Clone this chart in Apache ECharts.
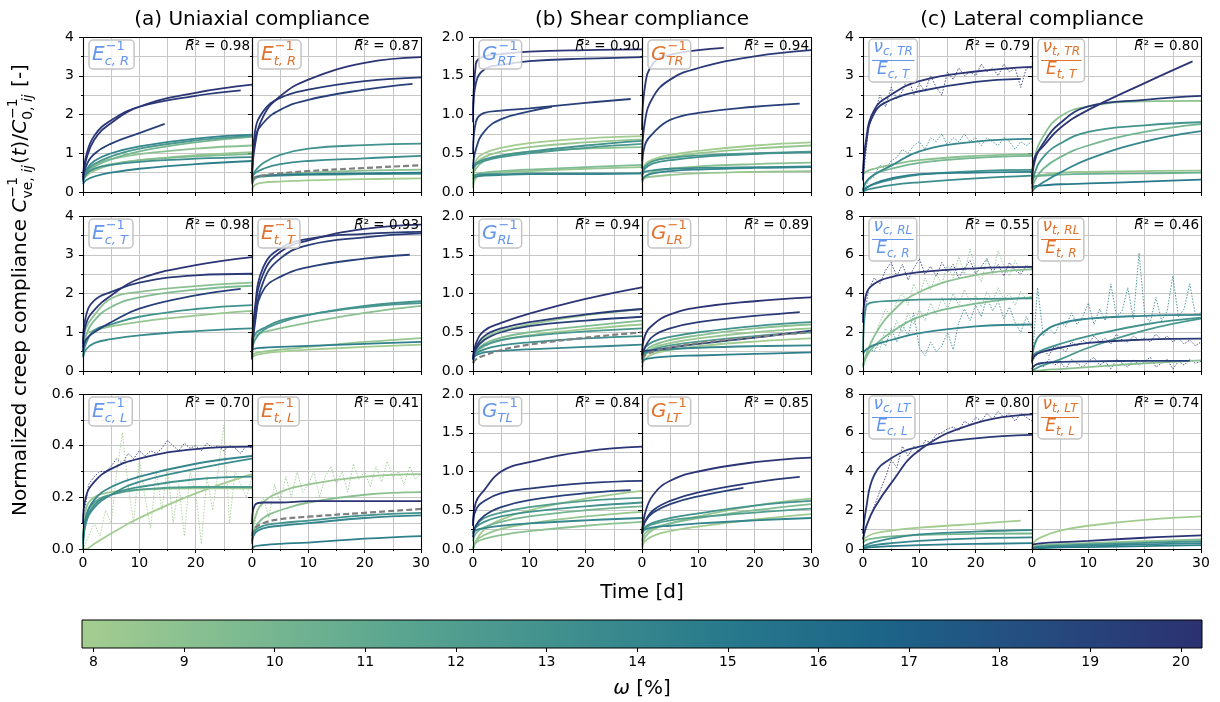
<!DOCTYPE html>
<html>
<head>
<meta charset="utf-8">
<script src="https://cdn.jsdelivr.net/npm/echarts@6/dist/echarts.min.js"></script>
<style>
html, body { margin: 0; padding: 0; background: #fff; }
#main { width: 1220px; height: 702px; }
</style>
</head>
<body>
<div id="main"></div>
<script>
var tDays = [0, 0.5, 2, 5, 10, 20, 30];
// every curve: [moisture %, last day, values at tDays before last day..., value at last day]
var ecR = [
    [20, 30, 0.35, 0.8, 1.35, 1.78, 2.2, 2.56, 2.77],
    [19.6, 28, 0.4, 0.9, 1.45, 1.85, 2.2, 2.48, 2.62],
    [19.2, 14.5, 0.3, 0.65, 0.98, 1.25, 1.52, 1.76],
    [14, 30, 0.35, 0.55, 0.8, 1.0, 1.18, 1.38, 1.48],
    [12.5, 30, 0.3, 0.5, 0.72, 0.92, 1.12, 1.33, 1.45],
    [10, 30, 0.3, 0.45, 0.65, 0.85, 1.05, 1.28, 1.42],
    [9, 30, 0.35, 0.5, 0.7, 0.85, 0.98, 1.12, 1.2],
    [8.5, 30, 0.3, 0.4, 0.55, 0.7, 0.82, 0.95, 1.03],
    [9.5, 30, 0.3, 0.45, 0.6, 0.72, 0.82, 0.92, 0.98],
    [13.5, 30, 0.25, 0.45, 0.6, 0.7, 0.78, 0.86, 0.9],
    [14.5, 30, 0.2, 0.3, 0.4, 0.5, 0.6, 0.72, 0.8]
];
var etR = [
    [20, 30, 0.3, 1.18, 1.95, 2.47, 2.9, 3.33, 3.48],
    [19.6, 30, 0.3, 1.52, 2.08, 2.43, 2.64, 2.86, 2.96],
    [19.2, 28.5, 0.3, 1.35, 1.78, 2.12, 2.38, 2.64, 2.79],
    [13, 30, 0.4, 0.53, 0.75, 0.96, 1.12, 1.21, 1.25],
    [13.5, 30, 0.35, 0.48, 0.6, 0.72, 0.8, 0.87, 0.93],
    [9, 30, 0.2, 0.35, 0.42, 0.45, 0.5, 0.55, 0.58],
    [12, 30, 0.2, 0.35, 0.4, 0.42, 0.44, 0.46, 0.47],
    [15, 30, 0.25, 0.38, 0.42, 0.44, 0.46, 0.48, 0.5],
    [8, 30, 0.05, 0.18, 0.24, 0.27, 0.3, 0.33, 0.35]
];
var gRT = [
    [20, 30, 0.9, 1.65, 1.75, 1.78, 1.81, 1.83, 1.84],
    [19.6, 30, 1.0, 1.4, 1.58, 1.64, 1.69, 1.72, 1.74],
    [19.3, 28, 0.5, 0.9, 1.02, 1.05, 1.08, 1.15, 1.2],
    [19, 14, 0.3, 0.55, 0.78, 0.94, 1.04, 1.1],
    [8, 30, 0.2, 0.4, 0.5, 0.57, 0.63, 0.69, 0.72],
    [8.5, 30, 0.15, 0.35, 0.45, 0.52, 0.58, 0.64, 0.68],
    [9, 30, 0.2, 0.3, 0.4, 0.47, 0.52, 0.56, 0.58],
    [13, 30, 0.33, 0.37, 0.42, 0.47, 0.52, 0.6, 0.66],
    [12.5, 30, 0.3, 0.35, 0.4, 0.45, 0.5, 0.57, 0.62],
    [9.5, 30, 0.1, 0.22, 0.25, 0.27, 0.29, 0.32, 0.35],
    [13.2, 30, 0.2, 0.22, 0.23, 0.23, 0.24, 0.24, 0.24],
    [14, 30, 0.17, 0.2, 0.21, 0.22, 0.23, 0.23, 0.24],
    [8.5, 30, 0.05, 0.18, 0.22, 0.25, 0.27, 0.3, 0.32]
];
var gTR = [
    [20, 14.5, 0.8, 1.35, 1.66, 1.77, 1.83, 1.86],
    [19.6, 30, 0.4, 0.9, 1.23, 1.45, 1.6, 1.75, 1.83],
    [19.2, 28, 0.3, 0.6, 0.76, 0.93, 1.02, 1.1, 1.14],
    [8, 30, 0.15, 0.35, 0.42, 0.48, 0.53, 0.6, 0.64],
    [8.5, 30, 0.2, 0.33, 0.4, 0.45, 0.5, 0.56, 0.6],
    [12.5, 30, 0.25, 0.33, 0.4, 0.44, 0.47, 0.5, 0.52],
    [13, 30, 0.2, 0.3, 0.37, 0.41, 0.45, 0.49, 0.51],
    [9, 30, 0.15, 0.2, 0.26, 0.3, 0.33, 0.36, 0.38],
    [13.5, 30, 0.22, 0.26, 0.28, 0.3, 0.31, 0.32, 0.33],
    [14, 30, 0.15, 0.2, 0.24, 0.27, 0.29, 0.31, 0.32],
    [8.5, 30, 0.12, 0.18, 0.2, 0.22, 0.24, 0.26, 0.27]
];
var latCTR = [
    [20, 30, 0.3, 1.3, 2.12, 2.51, 2.86, 3.11, 3.23],
    [19.6, 28, 0.3, 1.2, 2.04, 2.38, 2.6, 2.84, 2.92],
    [14, 30, 0.05, 0.25, 0.45, 0.68, 1.05, 1.3, 1.37],
    [9, 30, 0.45, 0.52, 0.6, 0.7, 0.82, 0.93, 0.98],
    [10, 30, 0.05, 0.25, 0.45, 0.6, 0.75, 0.88, 0.93],
    [13, 30, 0.02, 0.1, 0.2, 0.32, 0.45, 0.54, 0.57],
    [14.5, 30, 0.02, 0.1, 0.22, 0.35, 0.46, 0.5, 0.52],
    [13.5, 30, 0.0, 0.05, 0.1, 0.18, 0.25, 0.35, 0.42]
];
var latTTR = [
    [20, 28.5, 0.3, 0.9, 1.18, 1.65, 2.12, 2.81, 3.37],
    [19.6, 30, 0.2, 0.8, 1.26, 1.78, 2.21, 2.38, 2.48],
    [9, 30, 0.3, 0.9, 1.44, 1.95, 2.21, 2.34, 2.35],
    [13, 30, 0.1, 0.5, 0.9, 1.25, 1.55, 1.72, 1.8],
    [10, 30, 0.05, 0.3, 0.6, 0.9, 1.2, 1.55, 1.75],
    [14, 30, 0.0, 0.1, 0.25, 0.5, 0.85, 1.3, 1.57],
    [8.5, 30, 0.3, 0.4, 0.45, 0.5, 0.52, 0.54, 0.55],
    [10.5, 30, 0.35, 0.4, 0.42, 0.45, 0.47, 0.48, 0.5],
    [15, 30, 0.1, 0.15, 0.17, 0.2, 0.22, 0.27, 0.32]
];
var ecT = [
    [20, 30, 0.6, 1.2, 1.57, 1.95, 2.38, 2.73, 2.94],
    [19.6, 30, 0.7, 1.4, 1.82, 2.04, 2.28, 2.47, 2.51],
    [19.2, 28, 0.5, 0.8, 1.0, 1.26, 1.61, 1.95, 2.12],
    [9, 30, 0.7, 1.1, 1.44, 1.87, 2.04, 2.19, 2.28],
    [9.5, 30, 0.5, 0.9, 1.3, 1.65, 1.9, 2.1, 2.2],
    [8.5, 30, 0.8, 0.95, 1.05, 1.15, 1.27, 1.43, 1.55],
    [13, 30, 0.4, 0.7, 1.05, 1.2, 1.4, 1.6, 1.7],
    [13.5, 30, 0.35, 0.55, 0.72, 0.82, 0.92, 1.03, 1.1]
];
var etT = [
    [20, 30, 0.3, 1.5, 2.51, 3.07, 3.37, 3.67, 3.78],
    [19.6, 30, 0.4, 1.6, 2.68, 3.16, 3.41, 3.54, 3.59],
    [19.4, 30, 0.3, 1.2, 2.3, 2.9, 3.25, 3.45, 3.55],
    [19.2, 28, 0.5, 1.3, 2.08, 2.43, 2.68, 2.9, 3.0],
    [13, 30, 0.7, 0.95, 1.1, 1.3, 1.45, 1.68, 1.8],
    [12.5, 30, 0.5, 0.8, 1.05, 1.25, 1.45, 1.65, 1.75],
    [9, 30, 0.8, 0.9, 1.0, 1.1, 1.25, 1.5, 1.68],
    [8.5, 30, 0.35, 0.45, 0.5, 0.55, 0.62, 0.75, 0.85],
    [14.5, 30, 0.55, 0.58, 0.6, 0.62, 0.65, 0.7, 0.75],
    [8, 30, 0.35, 0.4, 0.45, 0.5, 0.55, 0.62, 0.68]
];
var gRL = [
    [20, 30, 0.15, 0.35, 0.52, 0.62, 0.74, 0.93, 1.08],
    [19.6, 30, 0.15, 0.3, 0.45, 0.55, 0.63, 0.73, 0.8],
    [19.2, 30, 0.15, 0.28, 0.4, 0.5, 0.58, 0.65, 0.7],
    [8.5, 30, 0.15, 0.3, 0.42, 0.52, 0.6, 0.72, 0.8],
    [9.5, 30, 0.15, 0.25, 0.35, 0.43, 0.5, 0.58, 0.65],
    [8.2, 30, 0.12, 0.22, 0.32, 0.4, 0.46, 0.54, 0.6],
    [12.5, 30, 0.15, 0.25, 0.33, 0.4, 0.45, 0.51, 0.55],
    [13.5, 30, 0.15, 0.22, 0.28, 0.33, 0.37, 0.42, 0.45],
    [14, 30, 0.15, 0.2, 0.24, 0.26, 0.28, 0.31, 0.34]
];
var gLR = [
    [20, 30, 0.2, 0.45, 0.6, 0.73, 0.82, 0.9, 0.95],
    [19.6, 28, 0.15, 0.3, 0.45, 0.55, 0.63, 0.71, 0.76],
    [19.2, 30, 0.25, 0.26, 0.27, 0.3, 0.35, 0.43, 0.52],
    [13, 30, 0.2, 0.3, 0.38, 0.44, 0.5, 0.58, 0.63],
    [9, 30, 0.15, 0.25, 0.33, 0.4, 0.46, 0.55, 0.6],
    [8.5, 30, 0.1, 0.2, 0.3, 0.36, 0.42, 0.5, 0.55],
    [12, 30, 0.15, 0.22, 0.28, 0.33, 0.38, 0.45, 0.5],
    [8, 30, 0.05, 0.15, 0.22, 0.27, 0.32, 0.38, 0.42],
    [14, 30, 0.2, 0.24, 0.26, 0.28, 0.3, 0.32, 0.33],
    [14.5, 30, 0.12, 0.15, 0.17, 0.19, 0.2, 0.22, 0.24]
];
var latCRL = [
    [20, 30, 2.5, 3.9, 4.5, 4.85, 5.1, 5.3, 5.37],
    [9, 30, 0.3, 0.8, 1.8, 3.0, 4.08, 4.95, 5.25],
    [13, 30, 1.0, 3.3, 3.55, 3.62, 3.68, 3.72, 3.75],
    [9.5, 30, 0.2, 0.7, 1.3, 2.0, 2.79, 3.48, 3.8],
    [14, 30, 0.9, 1.1, 1.35, 1.6, 1.95, 2.3, 2.4]
];
var latTRL = [
    [14, 30, 0.4, 1.4, 2.0, 2.45, 2.7, 2.85, 2.9],
    [13, 30, 0.7, 0.9, 1.1, 1.4, 1.8, 2.4, 2.75],
    [12.5, 30, 0.0, 0.1, 0.3, 0.6, 1.2, 2.1, 2.7],
    [19.6, 30, 0.5, 0.8, 1.0, 1.2, 1.45, 1.62, 1.67],
    [19.2, 28, 0.1, 0.3, 0.42, 0.47, 0.5, 0.52, 0.52],
    [9, 30, 0.0, 0.0, 0.05, 0.1, 0.2, 0.4, 0.55]
];
var ecL = [
    [20, 30, 0.1, 0.2, 0.26, 0.31, 0.35, 0.387, 0.396],
    [14, 30, 0.02, 0.12, 0.19, 0.24, 0.28, 0.33, 0.36],
    [13.5, 30, 0.02, 0.1, 0.16, 0.21, 0.26, 0.31, 0.35],
    [13, 30, 0.0, 0.1, 0.17, 0.21, 0.24, 0.27, 0.28],
    [12, 30, 0.02, 0.12, 0.18, 0.21, 0.23, 0.24, 0.24],
    [8.5, 30, 0.0, 0.15, 0.2, 0.22, 0.23, 0.235, 0.235],
    [8, 30, 0.0, 0.0, 0.02, 0.06, 0.12, 0.215, 0.29]
];
var etL = [
    [8.5, 30, 0.05, 0.12, 0.18, 0.22, 0.25, 0.28, 0.29],
    [9, 30, 0.03, 0.08, 0.12, 0.15, 0.18, 0.21, 0.22],
    [20, 30, 0.1, 0.17, 0.18, 0.18, 0.185, 0.185, 0.185],
    [13, 30, 0.03, 0.07, 0.09, 0.1, 0.11, 0.13, 0.14],
    [14, 30, 0.02, 0.06, 0.08, 0.09, 0.1, 0.12, 0.13],
    [14.5, 30, 0.0, 0.01, 0.015, 0.02, 0.025, 0.04, 0.05]
];
var gTL = [
    [20, 30, 0.3, 0.6, 0.76, 1.0, 1.12, 1.26, 1.32],
    [19.6, 30, 0.3, 0.5, 0.62, 0.72, 0.78, 0.85, 0.88],
    [19.2, 28, 0.15, 0.3, 0.43, 0.54, 0.63, 0.72, 0.76],
    [8, 30, 0.0, 0.1, 0.25, 0.38, 0.5, 0.65, 0.75],
    [12, 30, 0.2, 0.3, 0.4, 0.47, 0.54, 0.62, 0.66],
    [13, 30, 0.2, 0.28, 0.35, 0.42, 0.48, 0.55, 0.6],
    [10, 30, 0.1, 0.2, 0.28, 0.35, 0.42, 0.5, 0.55],
    [8.5, 30, 0.0, 0.1, 0.18, 0.26, 0.33, 0.42, 0.48],
    [14, 30, 0.2, 0.24, 0.27, 0.3, 0.33, 0.37, 0.4],
    [9, 30, 0.0, 0.08, 0.13, 0.18, 0.23, 0.3, 0.35]
];
var gLT = [
    [20, 30, 0.2, 0.45, 0.7, 0.88, 1.0, 1.12, 1.18],
    [19.6, 28, 0.2, 0.35, 0.5, 0.62, 0.73, 0.86, 0.93],
    [19.2, 18, 0.2, 0.35, 0.47, 0.58, 0.68, 0.79],
    [13, 30, 0.2, 0.28, 0.34, 0.4, 0.46, 0.56, 0.62],
    [8.5, 30, 0.05, 0.15, 0.25, 0.33, 0.42, 0.56, 0.65],
    [9.5, 30, 0.1, 0.2, 0.27, 0.33, 0.4, 0.5, 0.58],
    [12, 30, 0.2, 0.27, 0.32, 0.37, 0.41, 0.47, 0.52],
    [14, 30, 0.2, 0.25, 0.28, 0.3, 0.33, 0.37, 0.4],
    [8, 30, 0.02, 0.1, 0.17, 0.23, 0.29, 0.38, 0.45]
];
var latCLT = [
    [20, 30, 0.5, 1.1, 2.1, 3.4, 5.1, 6.5, 6.95],
    [19.6, 30, 0.8, 2.0, 3.82, 4.68, 5.28, 5.71, 5.89],
    [8, 28, 0.4, 0.6, 0.8, 0.95, 1.1, 1.3, 1.46],
    [13.5, 30, 0.1, 0.2, 0.35, 0.55, 0.75, 0.9, 0.98],
    [10, 30, 0.3, 0.45, 0.55, 0.65, 0.72, 0.78, 0.8],
    [14, 30, 0.05, 0.1, 0.2, 0.3, 0.42, 0.55, 0.6],
    [14.5, 30, 0.0, 0.05, 0.1, 0.15, 0.2, 0.26, 0.3]
];
var latTLT = [
    [8, 30, 0.0, 0.4, 0.65, 0.95, 1.2, 1.5, 1.68],
    [20, 30, 0.2, 0.25, 0.3, 0.35, 0.42, 0.58, 0.7],
    [9, 30, 0.1, 0.15, 0.2, 0.25, 0.3, 0.4, 0.5],
    [13, 30, 0.05, 0.1, 0.14, 0.18, 0.24, 0.32, 0.4],
    [14, 30, 0.02, 0.06, 0.1, 0.13, 0.17, 0.24, 0.3],
    [14.5, 30, 0.0, 0.03, 0.05, 0.08, 0.1, 0.15, 0.2]
];
// grey dashed reference curves: [last day, values...]
var refEtR = [30, 0.3, 0.38, 0.43, 0.48, 0.54, 0.62, 0.69];
var refGRL = [30, 0.1, 0.15, 0.2, 0.27, 0.34, 0.43, 0.5];
var refGLR = [30, 0.15, 0.2, 0.25, 0.3, 0.36, 0.44, 0.5];
var refEtL = [30, 0.05, 0.08, 0.1, 0.115, 0.125, 0.14, 0.155];

// measured (noisy) records, one value per day: [moisture %, values for rawDays...]
var rawDays = [0, 1, 2, 3, 4, 5, 6, 7, 8, 9, 10, 11, 12, 13, 14, 15, 16, 17, 18, 19, 20, 21, 22, 23, 24, 25, 26, 27, 28, 29, 30];
var rawEcL = [
    [8, 0.0, 0.05, 0.1, 0.05, 0.15, 0.1, 0.3, 0.45, 0.25, 0.1, 0.35, 0.2, 0.08, 0.3, 0.15, 0.32, 0.1, 0.25, 0.05, 0.3, 0.22, 0.02, 0.28, 0.15, 0.3, 0.48, 0.1, 0.3, 0.25, 0.2, 0.28],
    [20, 0.1, 0.25, 0.28, 0.3, 0.3, 0.32, 0.35, 0.33, 0.37, 0.35, 0.38, 0.36, 0.38, 0.37, 0.39, 0.42, 0.4, 0.38, 0.41, 0.39, 0.4, 0.38, 0.41, 0.39, 0.4, 0.38, 0.4, 0.39, 0.37, 0.4, 0.39]
];
var rawEtL = [
    [8.5, 0.05, 0.15, 0.2, 0.12, 0.25, 0.18, 0.28, 0.2, 0.3, 0.22, 0.25, 0.3, 0.2, 0.28, 0.32, 0.25, 0.3, 0.22, 0.33, 0.27, 0.3, 0.24, 0.32, 0.26, 0.34, 0.28, 0.3, 0.25, 0.32, 0.27, 0.29]
];
var rawLatCTR = [
    [20, 0.3, 1.7, 2.0, 2.5, 2.2, 2.7, 2.4, 2.6, 3.0, 2.5, 2.8, 2.6, 3.0, 2.7, 2.5, 3.1, 2.9, 3.2, 3.0, 3.1, 3.0, 3.3, 3.1, 3.2, 3.0, 3.3, 3.1, 3.2, 2.7, 3.2, 3.2],
    [14, 0.0, 0.3, 0.4, 0.7, 0.6, 0.8, 0.9, 1.1, 1.0, 1.2, 1.3, 1.1, 1.4, 1.3, 1.5, 1.2, 1.4, 1.3, 1.5, 1.3, 1.4, 1.2, 1.4, 1.3, 1.2, 1.4, 1.3, 1.1, 1.3, 1.2, 1.3]
];
var rawLatCRL = [
    [20, 2.5, 4.2, 4.8, 4.5, 5.2, 5.6, 4.9, 5.5, 4.7, 5.3, 5.8, 5.0, 5.4, 4.9, 5.6, 5.1, 5.5, 4.8, 5.3, 5.7, 5.0, 5.4, 5.8, 5.1, 5.5, 4.9, 5.6, 5.2, 5.0, 5.4, 5.3],
    [14, 0.9, 1.2, 1.0, 1.6, 1.3, 2.2, 1.5, 2.4, 1.8, 3.0, 1.2, 0.8, 1.5, 1.0, 1.3, 2.0, 1.1, 2.5, 3.2, 2.6, 3.4, 2.8, 3.8, 3.1, 3.6, 2.7, 3.3, 2.5, 2.0, 2.8, 2.2],
    [9, 0.3, 1.0, 1.8, 2.5, 3.2, 2.8, 3.6, 4.0, 3.4, 4.5, 3.9, 4.8, 4.2, 5.0, 4.5, 5.5, 4.8, 5.9, 5.0, 6.3, 5.2, 4.6, 5.8, 5.0, 6.2, 5.4, 4.9, 5.7, 5.1, 5.5, 5.2],
    [9.5, 0.2, 0.9, 1.4, 1.1, 2.2, 1.8, 2.6, 2.0, 3.0, 2.4, 3.2, 2.6, 3.5, 2.9, 3.8, 3.2, 4.0, 3.4, 4.2, 3.6, 3.9, 3.3, 4.1, 3.6, 4.3, 3.7, 4.0, 3.4, 4.1, 3.7, 3.9]
];
var rawLatTRL = [
    [14, 0.5, 4.3, 1.8, 2.2, 1.9, 2.5, 2.3, 3.0, 2.4, 2.8, 3.5, 2.4, 3.2, 2.6, 4.5, 2.8, 3.1, 4.3, 2.7, 6.1, 2.9, 2.5, 3.8, 2.6, 3.1, 4.9, 2.8, 3.2, 4.5, 2.9, 3.0],
    [19.6, 0.5, 0.9, 1.1, 0.8, 1.3, 1.2, 1.0, 1.5, 1.3, 1.6, 1.4, 1.8, 1.5, 1.7, 1.4, 1.9, 1.6, 1.5, 1.8, 1.6, 1.7, 1.5, 1.9, 1.6, 1.8, 1.5, 1.7, 1.4, 1.6, 1.3, 1.5],
    [19.2, 0.1, 0.4, 0.2, 0.6, 0.3, 0.5, 0.1, 0.6, 0.4, 0.2, 0.5, 0.7, 0.3, 0.5, 0.1, 0.6, 0.4, 0.2, 0.6, 0.3, 0.5, 0.7, 0.2, 0.4, 0.6, 0.1, 0.5, 0.3, 0.6, 0.4, 0.5]
];
var rawLatCLT = [
    [20, 0.5, 1.5, 2.2, 3.0, 3.7, 4.6, 4.2, 5.3, 4.8, 5.3, 5.0, 5.6, 5.5, 5.9, 6.0, 6.2, 6.3, 6.1, 6.6, 6.4, 6.8, 6.6, 7.0, 6.7, 7.1, 6.8, 7.0, 6.6, 7.0, 6.8, 6.6]
];

var r2Values = ['0.98', '0.87', '0.90', '0.94', '0.79', '0.80',
                '0.98', '0.93', '0.94', '0.89', '0.55', '0.46',
                '0.70', '0.41', '0.84', '0.85', '0.80', '0.74'];
var panelSymbols = [
    ['E', 'c, R'], ['E', 't, R'], ['G', 'RT'], ['G', 'TR'], ['ν', 'c, TR', 'E', 'c, T'], ['ν', 't, TR', 'E', 't, T'],
    ['E', 'c, T'], ['E', 't, T'], ['G', 'RL'], ['G', 'LR'], ['ν', 'c, RL', 'E', 'c, R'], ['ν', 't, RL', 'E', 't, R'],
    ['E', 'c, L'], ['E', 't, L'], ['G', 'TL'], ['G', 'LT'], ['ν', 'c, LT', 'E', 'c, L'], ['ν', 't, LT', 'E', 't, L']
];
var groupTitles = ['(a) Uniaxial compliance', '(b) Shear compliance', '(c) Lateral compliance'];
var yMax = [[4, 2, 4], [4, 2, 8], [0.6, 2, 8]];
var yStep = [[1, 0.5, 1], [1, 0.5, 2], [0.2, 0.5, 2]];
var moistureRange = [7.873, 20.233];
var moistureTicks = [8, 9, 10, 11, 12, 13, 14, 15, 16, 17, 18, 19, 20];
var crestStops = [[0, '#a5cd90'], [0.143, '#7dba91'], [0.286, '#59a590'], [0.429, '#40908e'],
                  [0.571, '#287a8c'], [0.714, '#1c6488'], [0.857, '#254b7f'], [1, '#2c3172']];

var panelCurves = [ecR, etR, gRT, gTR, latCTR, latTTR, ecT, etT, gRL, gLR, latCRL, latTRL,
                   ecL, etL, gTL, gLT, latCLT, latTLT];
var panelRefs = [null, refEtR, null, null, null, null, null, null, refGRL, refGLR, null, null,
                 null, refEtL, null, null, null, null];
var panelRaw = [null, null, null, null, rawLatCTR, null, null, null, null, null, rawLatCRL, rawLatTRL,
                rawEcL, rawEtL, null, null, rawLatCLT, null];

var FONT = 'DejaVu Sans';
var BLUE = '#6495ed', ORANGE = '#e0722c';
var colX = [83, 252, 473, 642, 863, 1032], rowY = [37, 216, 394], GW = 169, GH = 155;

var measureCtx = document.createElement('canvas').getContext('2d');
function tw(s, size, italic) {
    measureCtx.font = (italic ? 'italic ' : '') + size + 'px "' + FONT + '"';
    return measureCtx.measureText(s).width;
}
function hexRgb(h) {
    return [parseInt(h.substr(1, 2), 16), parseInt(h.substr(3, 2), 16), parseInt(h.substr(5, 2), 16)];
}
function crest(w) {
    var v = (w - moistureRange[0]) / (moistureRange[1] - moistureRange[0]);
    v = Math.max(0, Math.min(1, v));
    for (var i = 1; i < crestStops.length; i++) {
        if (v <= crestStops[i][0]) {
            var a = crestStops[i - 1], b = crestStops[i];
            var f = (v - a[0]) / (b[0] - a[0]);
            var ca = hexRgb(a[1]), cb = hexRgb(b[1]);
            return 'rgb(' + [0, 1, 2].map(function (k) { return Math.round(ca[k] + (cb[k] - ca[k]) * f); }).join(',') + ')';
        }
    }
    return crestStops[crestStops.length - 1][1];
}
function curvePoints(end, vals) {
    var pts = [], i = 0;
    for (; i < tDays.length && tDays[i] < end; i++) pts.push([tDays[i], vals[i]]);
    pts.push([end, vals[i]]);
    return pts;
}
function txt(x, y, s, size, opt) {
    opt = opt || {};
    return {
        type: 'text', x: x, y: y, z: 110, silent: true,
        style: {
            text: s, fontSize: size, fontFamily: FONT, fontStyle: opt.italic ? 'italic' : 'normal',
            fill: opt.color || '#000', align: opt.align || 'left', verticalAlign: opt.va || 'middle',
            textAlign: opt.align || 'left', textVerticalAlign: opt.va || 'middle', rich: opt.rich
        }
    };
}

var grids = [], xAxes = [], yAxes = [], series = [], gfx = [];
var gridLine = { color: '#c6c6c6', width: 1 };

for (var p = 0; p < 18; p++) {
    var row = Math.floor(p / 6), col = p % 6, pair = Math.floor(col / 2), isLeft = col % 2 === 0;
    var gx = colX[col], gy = rowY[row];
    var step = yStep[row][pair];
    grids.push({ left: gx, top: gy, width: GW, height: GH });
    xAxes.push({
        gridIndex: p, type: 'value', min: 0, max: 30, interval: 10,
        axisLine: { show: false },
        axisTick: { show: true, length: 4, lineStyle: { color: '#000' } },
        minorTick: { show: true, splitNumber: 2, length: 2, lineStyle: { color: '#000' } },
        splitLine: { show: true, lineStyle: gridLine },
        minorSplitLine: { show: true, lineStyle: gridLine },
        axisLabel: {
            show: row === 2, fontSize: 14, color: '#000', fontFamily: FONT, margin: 7,
            formatter: (function (left) { return function (v) { return (left && v === 30) ? '' : String(v); }; })(isLeft)
        }
    });
    yAxes.push({
        gridIndex: p, type: 'value', min: 0, max: yMax[row][pair], interval: step,
        axisLine: { show: false },
        axisTick: { show: true, length: 4, lineStyle: { color: '#000' } },
        minorTick: { show: true, splitNumber: 2, length: 2, lineStyle: { color: '#000' } },
        splitLine: { show: true, lineStyle: gridLine },
        minorSplitLine: { show: true, lineStyle: gridLine },
        axisLabel: {
            show: isLeft, fontSize: 14, color: '#000', fontFamily: FONT, margin: 9,
            formatter: (function (s) { return function (v) { return s < 1 ? v.toFixed(1) : String(v); }; })(step)
        }
    });

    if (panelRaw[p]) {
        panelRaw[p].forEach(function (r) {
            series.push({
                type: 'line', xAxisIndex: p, yAxisIndex: p,
                data: r.slice(1).map(function (v, k) { return [rawDays[k], v]; }),
                showSymbol: false, symbol: 'none', silent: true,
                lineStyle: { color: crest(r[0]), width: 1, type: [1.5, 1.5], opacity: 0.85 }, z: 2
            });
        });
    }
    var curves = panelCurves[p].slice().sort(function (a, b) { return a[0] - b[0]; });
    curves.forEach(function (c) {
        series.push({
            type: 'line', xAxisIndex: p, yAxisIndex: p, data: curvePoints(c[1], c.slice(2)),
            showSymbol: false, symbol: 'none', smooth: 0.45, silent: true,
            lineStyle: { color: crest(c[0]), width: 1.8 }, z: 3
        });
    });
    if (panelRefs[p]) {
        series.push({
            type: 'line', xAxisIndex: p, yAxisIndex: p, data: curvePoints(panelRefs[p][0], panelRefs[p].slice(1)),
            showSymbol: false, symbol: 'none', smooth: 0.45, silent: true,
            lineStyle: { color: '#808080', width: 2.2, type: [6, 3] }, z: 4
        });
    }

    // frame
    gfx.push({
        type: 'rect', z: 100, silent: true,
        shape: { x: gx + 0.5, y: gy + 0.5, width: GW, height: GH },
        style: { fill: 'none', stroke: '#000', lineWidth: 1.1 }
    });

    // R-bar squared annotation
    var rEdge = gx + GW - 2, rTail = '\u00b2 = ' + r2Values[p];
    var rX = rEdge - tw(rTail, 13.5, false) - tw('R', 13.5, true);
    gfx.push(txt(rEdge, gy + 9, rTail, 13.5, { align: 'right' }));
    gfx.push(txt(rX, gy + 9, 'R', 13.5, { italic: true }));
    gfx.push({
        type: 'line', z: 110, silent: true,
        shape: { x1: rX + 3.5, y1: gy + 2.5, x2: rX + 8.5, y2: gy + 2.5 },
        style: { stroke: '#000', lineWidth: 1 }
    });

    // symbol box
    var sym = panelSymbols[p], color = isLeft ? BLUE : ORANGE;
    if (sym.length === 2) {
        var wL = tw(sym[0], 20, true), wS = Math.max(tw('\u22121', 13, false), tw(sym[1], 13, true));
        var bx = gx + 6, by = gy + 3, bw = 3 + wL + 1 + wS + 4;
        gfx.push({
            type: 'rect', z: 105, silent: true, shape: { x: bx, y: by, width: bw, height: 29, r: 4 },
            style: { fill: 'rgba(255,255,255,0.8)', stroke: '#c4c4c4', lineWidth: 1.5 }
        });
        gfx.push(txt(bx + 3, gy + 18, sym[0], 20, { italic: true, color: color }));
        gfx.push(txt(bx + 4 + wL, gy + 10, '\u22121', 13, { color: color }));
        gfx.push(txt(bx + 3 + wL, gy + 24.5, sym[1], 13, { italic: true, color: color }));
    } else {
        var w1 = tw(sym[0], 17, true) + tw(sym[1], 12, true);
        var w2 = tw(sym[2], 17, true) + tw(sym[3], 12, true);
        var wf = Math.max(w1, w2);
        var fx = gx + 6, fy = gy + 2, fw = wf + 9;
        gfx.push({
            type: 'rect', z: 105, silent: true, shape: { x: fx, y: fy, width: fw, height: 43, r: 4 },
            style: { fill: 'rgba(255,255,255,0.8)', stroke: '#c4c4c4', lineWidth: 1.5 }
        });
        var nx = fx + (fw - w1) / 2, dx = fx + (fw - w2) / 2;
        gfx.push(txt(nx, gy + 11, sym[0], 17, { italic: true, color: color }));
        gfx.push(txt(nx + tw(sym[0], 17, true), gy + 15, sym[1], 12, { italic: true, color: color }));
        gfx.push({
            type: 'line', z: 106, silent: true,
            shape: { x1: fx + 3, y1: gy + 23.5, x2: fx + fw - 3, y2: gy + 23.5 },
            style: { stroke: color, lineWidth: 1 }
        });
        gfx.push(txt(dx, gy + 33, sym[2], 17, { italic: true, color: color }));
        gfx.push(txt(dx + tw(sym[2], 17, true), gy + 38, sym[3], 12, { italic: true, color: color }));
    }
}

// group titles and axis titles
for (var g = 0; g < 3; g++) {
    gfx.push(txt(colX[2 * g + 1], 20, groupTitles[g], 20, { align: 'center' }));
}
gfx.push(txt(642, 593, 'Time [d]', 20, { align: 'center' }));
gfx.push(txt(642, 689, '{i|\u03c9} [%]', 20, { align: 'center', rich: { i: { fontStyle: 'italic', fontSize: 20, fontFamily: FONT } } }));

// rotated y label built from pieces
var yPieces = [
    { t: 'Normalized creep compliance ', s: 20 },
    { t: 'C', s: 20, i: true },
    { sup: '\u22121', sub: 've, ', subI: 'ij' },
    { t: '(', s: 20 }, { t: 't', s: 20, i: true }, { t: ')/', s: 20 },
    { t: 'C', s: 20, i: true },
    { sup: '\u22121', sub: '0, ', subI: 'ij' },
    { t: ' [-]', s: 20 }
];
var yChildren = [], cursor = 0;
yPieces.forEach(function (pc) {
    if (pc.t) {
        yChildren.push(txt(cursor, 0, pc.t, pc.s, { italic: pc.i }));
        cursor += tw(pc.t, pc.s, pc.i);
    } else {
        var ws = tw(pc.sub, 14, false) + tw(pc.subI, 14, true);
        yChildren.push(txt(cursor + 1, -8, pc.sup, 14));
        yChildren.push(txt(cursor, 7, pc.sub, 14));
        yChildren.push(txt(cursor + tw(pc.sub, 14, false), 7, pc.subI, 14, { italic: true }));
        cursor += Math.max(ws, tw(pc.sup, 14, false) + 1) + 1;
    }
});
yChildren.forEach(function (c) { c.x -= cursor / 2; });
gfx.push({ type: 'group', x: 21, y: 290, rotation: Math.PI / 2, children: yChildren });

// colour bar
var cbGrid = 18;
grids.push({
    left: 82, top: 620, width: 1120, height: 28, show: true,
    backgroundColor: new echarts.graphic.LinearGradient(0, 0, 1, 0, crestStops.map(function (s) {
        return { offset: s[0], color: s[1] };
    })),
    borderColor: '#000', borderWidth: 1
});
xAxes.push({
    gridIndex: cbGrid, type: 'value', min: moistureRange[0], max: moistureRange[1],
    axisLine: { show: false }, splitLine: { show: false },
    axisTick: { show: true, length: 4, customValues: moistureTicks, lineStyle: { color: '#000' } },
    axisLabel: { show: true, customValues: moistureTicks, fontSize: 14, color: '#000', fontFamily: FONT, margin: 7 }
});
yAxes.push({ gridIndex: cbGrid, type: 'value', min: 0, max: 1, show: false });

var myChart = echarts.init(document.getElementById('main'));
var option = {
    animation: false,
    backgroundColor: '#fff',
    textStyle: { fontFamily: FONT },
    grid: grids,
    xAxis: xAxes,
    yAxis: yAxes,
    series: series,
    graphic: { elements: gfx }
};
myChart.setOption(option);
</script>
</body>
</html>
